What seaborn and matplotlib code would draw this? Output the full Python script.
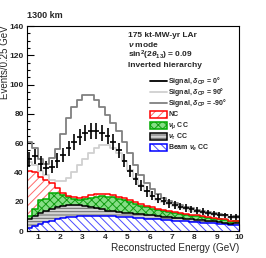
import numpy as np
import pandas as pd
import seaborn as sns
import matplotlib.pyplot as plt
from matplotlib.lines import Line2D
from matplotlib.patches import Rectangle
from matplotlib.ticker import MultipleLocator

# 0.25 GeV bins from 0.5 to 10 GeV
edges = np.arange(0.5, 10.0001, 0.25)
centers = edges[:-1] + 0.125

# background components (events per bin)
beam_nue = [2.0, 3.5, 5.0, 6.0, 7.0, 8.0, 8.8, 9.3, 9.7, 10.0,
            10.3, 10.5, 10.5, 10.4, 10.2, 10.0, 9.8, 9.5, 9.3, 9.0,
            8.8, 8.5, 8.3, 8.0, 7.7, 7.4, 7.1, 6.8, 6.5, 6.3,
            6.0, 5.8, 5.5, 5.2, 5.0, 4.7, 3.9, 4.3]
nutau_cc = [6.5, 6.5, 7.0, 7.5, 8.0, 8.3, 8.2, 8.2, 8.0, 7.5,
            6.7, 5.8, 5.0, 4.3, 3.8, 3.4, 3.1, 2.9, 2.7, 2.6,
            2.5, 2.5, 2.4, 2.3, 2.2, 2.1, 2.0, 1.9, 1.8, 1.7,
            1.6, 1.5, 1.4, 1.3, 1.2, 1.1, 1.0, 0.9]
numu_cc = [1.5, 4.8, 9.5, 8.5, 11.0, 9.7, 7.5, 5.5, 4.3, 4.0,
           5.0, 6.5, 8.0, 9.1, 9.5, 9.6, 9.1, 8.6, 7.5, 6.7,
           6.0, 5.3, 4.6, 4.2, 3.9, 3.5, 3.2, 3.0, 2.7, 2.5,
           2.4, 2.2, 2.1, 2.0, 1.8, 1.7, 1.4, 1.3]
nc = [31.0, 25.2, 15.5, 13.0, 6.5, 3.5, 1.5, 1.0, 1.0, 1.0,
      1.5, 1.5, 1.5, 1.2, 1.5, 1.3, 1.5, 1.3, 1.5, 1.4,
      1.2, 1.0, 1.0, 0.8, 0.7, 0.8, 0.7, 0.6, 0.7, 0.6,
      0.6, 0.5, 0.5, 0.5, 0.5, 0.5, 0.5, 0.5]

# signal + background totals
total_dcp0 = [49, 51, 46, 43, 44, 48, 52, 56.5, 61, 64.5,
              67, 68, 68, 67, 65, 61, 55, 48, 41, 35.5,
              31, 27, 24, 22, 20.5, 19, 17.8, 16.7, 15.7, 14.8,
              14, 13.2, 12.5, 11.8, 11.2, 10.6, 9.5, 9.8]
err_dcp0 = [5, 5, 5, 4.5, 4.5, 5, 5, 5, 5.5, 5.5,
            5.5, 5.5, 5.5, 5.5, 5.5, 5.5, 5, 4.5, 4, 4,
            3.5, 3.5, 3, 3, 3, 3, 2.5, 2.5, 2.5, 2.5,
            2.5, 2.5, 2, 2, 2, 2, 2, 2]
total_dcp90 = [47, 45, 41, 38, 35, 34, 34, 36, 40, 45,
               49.5, 53.5, 57, 59, 59, 57, 53, 47.5, 42, 36.5,
               31.5, 27.5, 24, 21.5, 19.8, 18.3, 17, 15.9, 14.9, 14,
               13.2, 12.5, 11.8, 11.2, 10.6, 10.0, 8.9, 9.2]
total_dcpm90 = [61, 57, 49, 46, 50, 56, 66, 77, 85, 89.5,
                93, 93, 89.5, 85, 79, 73.5, 68, 61, 53, 45,
                38, 32.5, 28.5, 25.3, 22.8, 20.8, 19.2, 17.8, 16.6, 15.6,
                14.6, 13.7, 12.9, 12.2, 11.6, 11.0, 9.9, 10.1]

sns.set_style('ticks')
plt.rcParams['font.family'] = ['Liberation Sans', 'DejaVu Sans']
plt.rcParams['font.weight'] = 'bold'
plt.rcParams['mathtext.fontset'] = 'custom'
plt.rcParams['mathtext.rm'] = 'Liberation Sans:bold'
plt.rcParams['mathtext.it'] = 'Liberation Sans:italic:bold'
plt.rcParams['mathtext.bf'] = 'Liberation Sans:bold'
plt.rcParams['hatch.linewidth'] = 0.7

fig = plt.figure(figsize=(2.66, 2.58), dpi=100)
ax = fig.add_axes([26.6 / 266, 1 - 231 / 258, 212.4 / 266, 205 / 258])


def step_line(values, color, lw):
    df = pd.DataFrame({'E': centers, 'n': values})
    sns.histplot(data=df, x='E', weights='n', bins=list(edges), element='step',
                 fill=False, color=color, linewidth=lw, ax=ax)


# stacked backgrounds
stack = np.cumsum([beam_nue, nutau_cc, numu_cc, nc], axis=0)
lows = np.vstack([np.zeros(len(centers)), stack[:-1]])
fills = [('white', '\\\\\\\\', '#4a4aff'),
         ('#d4d4d4', '-----', '#6a6a6a'),
         ('#86de86', 'xxxx', '#139c13'),
         ('white', '////', '#ff6a6a')]
for top, low, (fc, hatch, hc) in zip(stack, lows, fills):
    ax.stairs(top, edges, baseline=low, fill=True, facecolor=fc,
              hatch=hatch, edgecolor=hc, linewidth=0)

outline = ['#0000ff', 'black', '#00aa00', '#ff0000']
for top, c in zip(stack, outline):
    step_line(top, c, 1.1)

step_line(total_dcpm90, '#808080', 1.3)
step_line(total_dcp90, '#d0d0d0', 1.3)
ax.errorbar(centers, total_dcp0, yerr=err_dcp0, xerr=0.125, fmt='none',
            ecolor='black', elinewidth=1.2, capsize=0)

ax.set_xlim(0.5, 10)
ax.set_ylim(0, 140)
ax.set_xticks(range(1, 11))
ax.set_yticks(range(0, 141, 20))
ax.xaxis.set_minor_locator(MultipleLocator(0.2))
ax.yaxis.set_minor_locator(MultipleLocator(5))
ax.tick_params(which='both', direction='in', top=False, right=False,
               labelsize=6, width=0.8, pad=2, color='black')
ax.tick_params(which='major', length=5)
ax.tick_params(which='minor', length=2.5)
for s in ax.spines.values():
    s.set_visible(True)
    s.set_linewidth(0.8)
    s.set_color('black')

ax.set_xlabel('Reconstructed Energy (GeV)', fontsize=7.2, loc='right')
ax.xaxis.set_label_coords(1.0, -0.06)
ax.set_ylabel('Events/0.25 GeV', fontsize=7, loc='top')
ax.yaxis.set_label_coords(-0.079, 1.005)

fig.text(27 / 266, 1 - 18.5 / 258, '1300 km', fontsize=6.5, va='baseline')


def axpos(px, py):
    return (px - 26.6) / 212.4, (231 - py) / 205


info = ['175 kt-MW-yr LAr', r'$\nu$ mode',
        r'sin$^2$(2$\theta_{13}$) = 0.09', 'Inverted hierarchy']
for txt, py in zip(info, [37, 46.5, 57.5, 67]):
    ax.text(*axpos(128, py), txt, transform=ax.transAxes, fontsize=6,
            va='baseline', ha='left')

entries = [('line', 'black', r'Signal, $\delta_{\rm CP}$ = 0°'),
           ('line', '#d0d0d0', r'Signal, $\delta_{\rm CP}$ = 90°'),
           ('line', '#808080', r'Signal, $\delta_{\rm CP}$ = -90°'),
           ('box', 3, 'NC'),
           ('box', 2, r'$\nu_\mu$ CC'),
           ('box', 1, r'$\nu_\tau$ CC'),
           ('box', 0, r'Beam $\nu_e$ CC')]
for (kind, spec, label), py in zip(entries, [81, 92, 103, 114.5, 125.5, 136.5, 147.5]):
    x0, y0 = axpos(150, py)
    x1, _ = axpos(166.5, py)
    if kind == 'line':
        ax.add_line(Line2D([x0, x1], [y0, y0], color=spec, lw=1.3,
                           transform=ax.transAxes))
    else:
        fc, hatch, hc = fills[spec]
        h = 7 / 205
        ax.add_patch(Rectangle((x0, y0 - h / 2), x1 - x0, h, transform=ax.transAxes,
                               facecolor=fc, hatch=hatch, edgecolor=hc, lw=0))
        ax.add_patch(Rectangle((x0, y0 - h / 2), x1 - x0, h, transform=ax.transAxes,
                               facecolor='none', edgecolor=outline[spec], lw=1.1))
    ax.text(*axpos(168.5, py), label, transform=ax.transAxes, fontsize=5,
            va='center', ha='left')

fig.savefig('out.png', dpi=100)
